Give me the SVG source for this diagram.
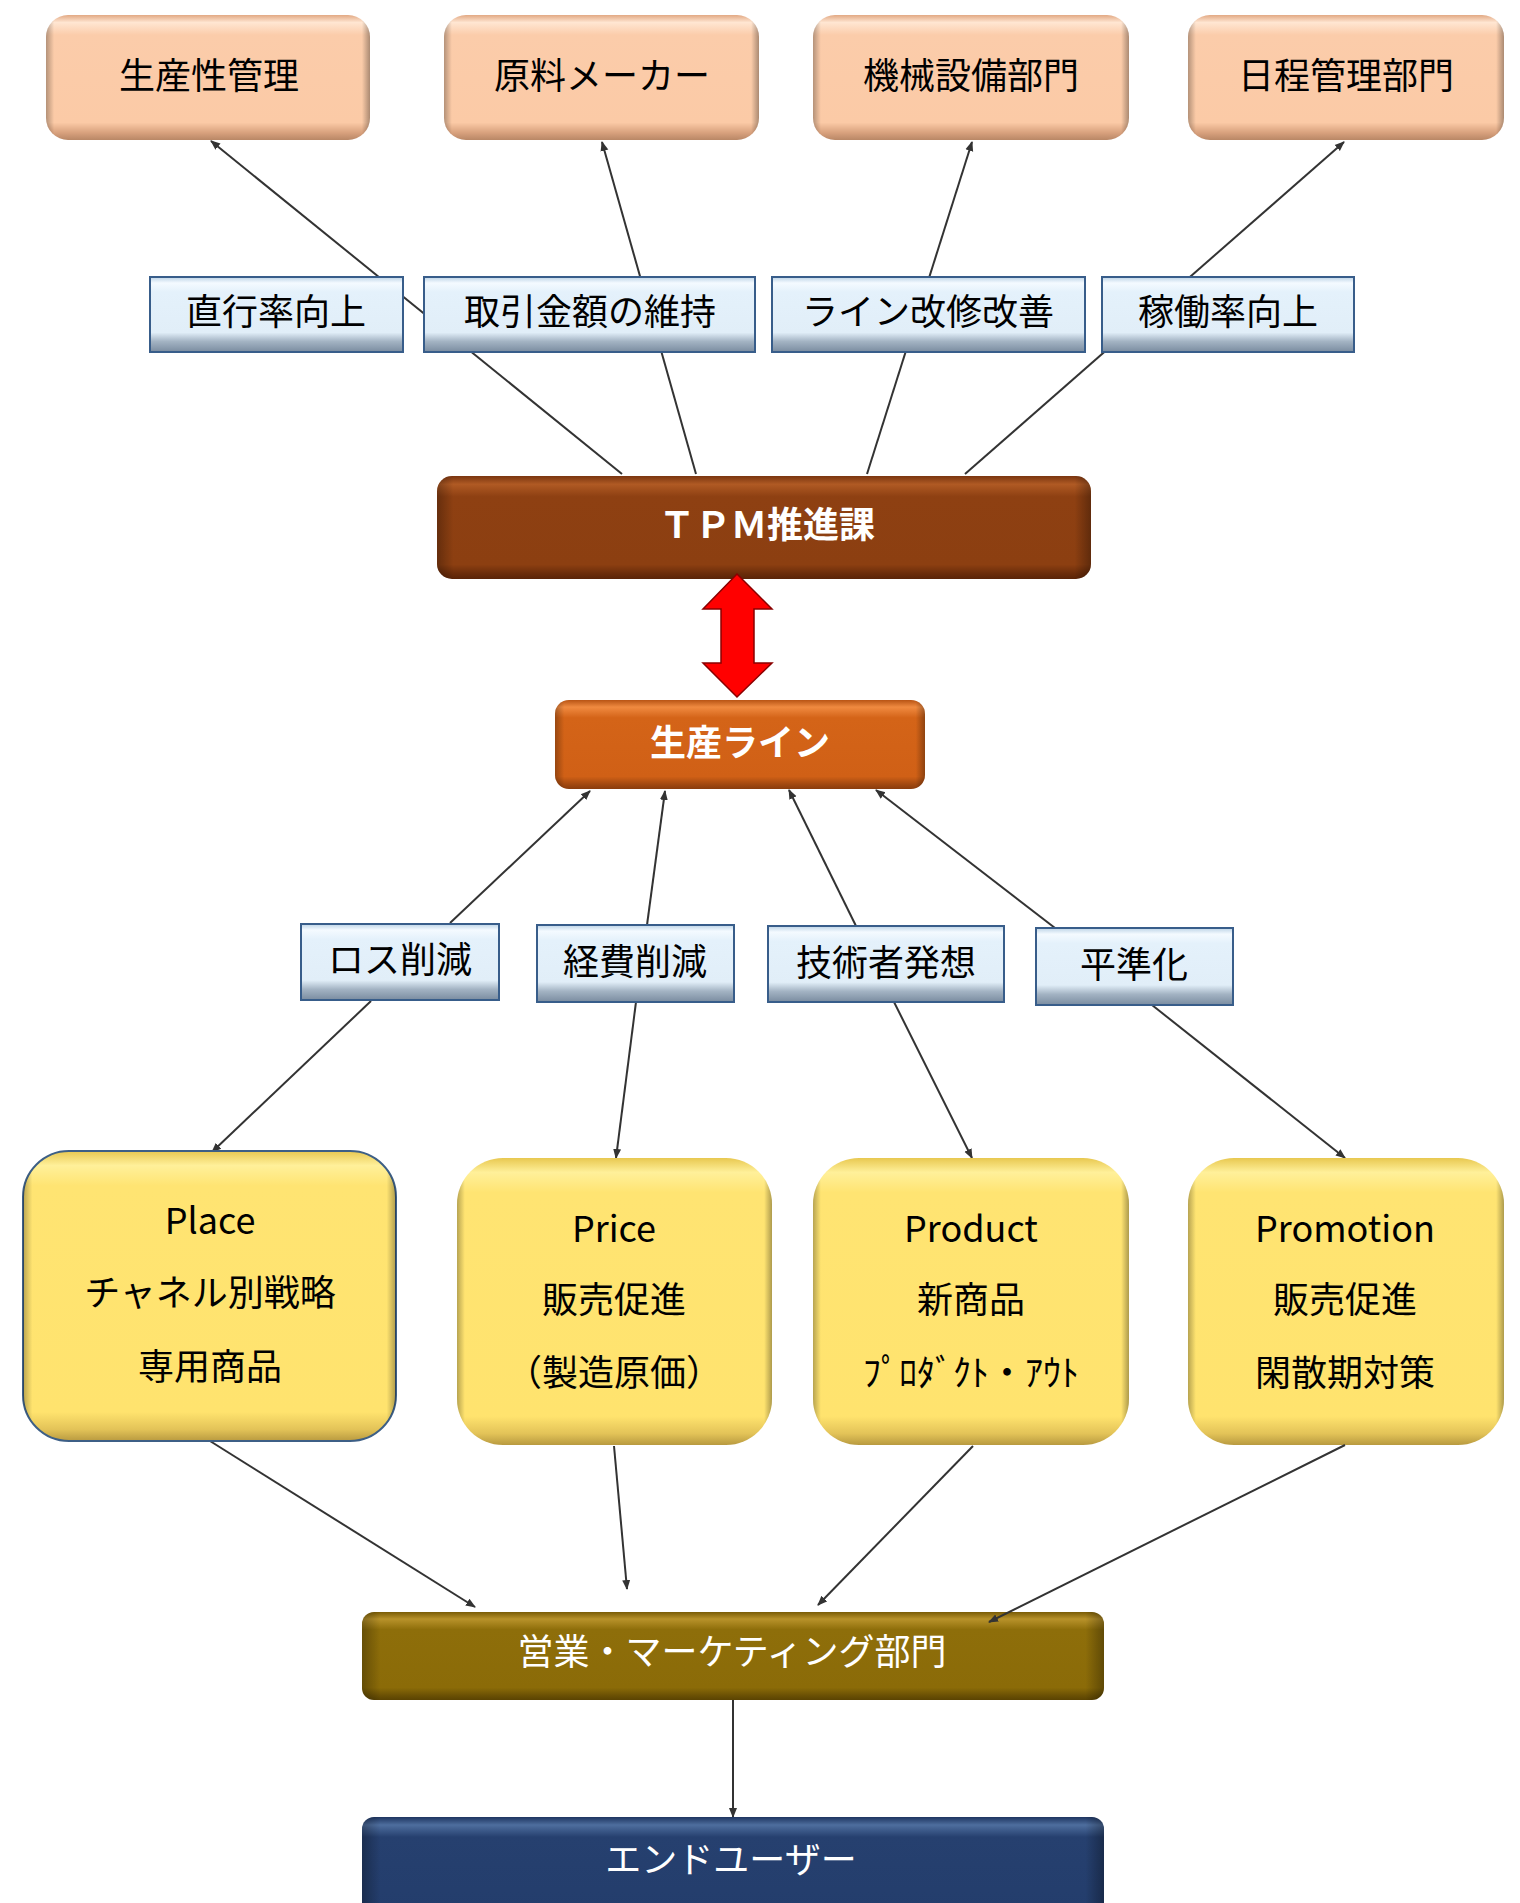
<svg xmlns="http://www.w3.org/2000/svg" width="1520" height="1903" viewBox="0 0 1520 1903">
<style>
text{font-family:"Noto Sans CJK JP","Noto Sans",sans-serif;font-size:36px;text-anchor:middle}
.dk{fill:#000}
.wh{fill:#fff}
.b{font-weight:bold}
.con line{stroke:#333;stroke-width:2;marker-end:url(#ah)}
.side{fill:url(#side)}
</style>
<defs>
<marker id="ah" viewBox="0 0 10 10" refX="9" refY="5" markerWidth="10" markerHeight="10" markerUnits="userSpaceOnUse" orient="auto">
<path d="M0,1 L10,5 L0,9 z" fill="#333"/>
</marker>
<linearGradient id="side" x1="0" y1="0" x2="1" y2="0">
<stop offset="0" stop-color="#000" stop-opacity="0.28"/>
<stop offset="0.025" stop-color="#000" stop-opacity="0"/>
<stop offset="0.975" stop-color="#000" stop-opacity="0"/>
<stop offset="1" stop-color="#000" stop-opacity="0.32"/>
</linearGradient>
<linearGradient id="peach" x1="0" y1="0" x2="0" y2="1">
<stop offset="0" stop-color="#E2A984"/>
<stop offset="0.06" stop-color="#FFE6D2"/>
<stop offset="0.16" stop-color="#FBCCAA"/>
<stop offset="0.86" stop-color="#FBCAA6"/>
<stop offset="0.94" stop-color="#D9A27E"/>
<stop offset="1" stop-color="#B98766"/>
</linearGradient>
<linearGradient id="blue" x1="0" y1="0" x2="0" y2="1">
<stop offset="0" stop-color="#BCD3E6"/>
<stop offset="0.08" stop-color="#F4FAFF"/>
<stop offset="0.2" stop-color="#E4F1FB"/>
<stop offset="0.74" stop-color="#E1EEF8"/>
<stop offset="0.86" stop-color="#A3B3C3"/>
<stop offset="1" stop-color="#7A8CA0"/>
</linearGradient>
<linearGradient id="brown" x1="0" y1="0" x2="0" y2="1">
<stop offset="0" stop-color="#7A3510"/>
<stop offset="0.08" stop-color="#B05A24"/>
<stop offset="0.2" stop-color="#8E4012"/>
<stop offset="0.86" stop-color="#8C3F11"/>
<stop offset="0.95" stop-color="#6A2C0A"/>
<stop offset="1" stop-color="#5A2407"/>
</linearGradient>
<linearGradient id="orange" x1="0" y1="0" x2="0" y2="1">
<stop offset="0" stop-color="#B85414"/>
<stop offset="0.08" stop-color="#F08A40"/>
<stop offset="0.2" stop-color="#D46418"/>
<stop offset="0.86" stop-color="#D06016"/>
<stop offset="0.95" stop-color="#A04810"/>
<stop offset="1" stop-color="#8A3C0C"/>
</linearGradient>
<linearGradient id="yellow" x1="0" y1="0" x2="0" y2="1">
<stop offset="0" stop-color="#E8C850"/>
<stop offset="0.05" stop-color="#FFF09A"/>
<stop offset="0.12" stop-color="#FFE472"/>
<stop offset="0.9" stop-color="#FFE36E"/>
<stop offset="0.96" stop-color="#E3C358"/>
<stop offset="1" stop-color="#B89A40"/>
</linearGradient>
<linearGradient id="olive" x1="0" y1="0" x2="0" y2="1">
<stop offset="0" stop-color="#7A5C06"/>
<stop offset="0.08" stop-color="#B8922A"/>
<stop offset="0.2" stop-color="#8E6E0A"/>
<stop offset="0.86" stop-color="#8B6B08"/>
<stop offset="0.95" stop-color="#6A5004"/>
<stop offset="1" stop-color="#5A4302"/>
</linearGradient>
<linearGradient id="navy" x1="0" y1="0" x2="0" y2="1">
<stop offset="0" stop-color="#1E3560"/>
<stop offset="0.08" stop-color="#4E6E9E"/>
<stop offset="0.2" stop-color="#26406F"/>
<stop offset="1" stop-color="#233D6C"/>
</linearGradient>
</defs>
<rect width="1520" height="1903" fill="#fff"/>

<g id="connectors" class="con">
<line x1="622" y1="474" x2="211" y2="141"/>
<line x1="696" y1="474" x2="602" y2="142"/>
<line x1="867" y1="474" x2="972" y2="142"/>
<line x1="965" y1="474" x2="1344" y2="142"/>
<line x1="450" y1="923" x2="590" y2="791"/>
<line x1="647" y1="925" x2="665" y2="791"/>
<line x1="856" y1="926" x2="789" y2="790"/>
<line x1="1055" y1="928" x2="876" y2="790"/>
<line x1="371" y1="1001" x2="212" y2="1152"/>
<line x1="636" y1="1002" x2="616" y2="1158"/>
<line x1="894" y1="1002" x2="972" y2="1158"/>
<line x1="1152" y1="1005" x2="1345" y2="1158"/>
<line x1="210" y1="1441" x2="475" y2="1607"/>
<line x1="614" y1="1446" x2="627" y2="1589"/>
<line x1="973" y1="1446" x2="818" y2="1605"/>
<line x1="733" y1="1700" x2="733" y2="1817"/>
</g>

<g id="n-seisansei">
<rect x="46" y="15" width="324" height="125" rx="22" fill="url(#peach)"/>
<rect x="46" y="15" width="324" height="125" rx="22" class="side"/>
<text x="209" y="89" class="dk">生産性管理</text>
</g>
<g id="n-genryo">
<rect x="444" y="15" width="315" height="125" rx="22" fill="url(#peach)"/>
<rect x="444" y="15" width="315" height="125" rx="22" class="side"/>
<text x="602" y="89" class="dk">原料メーカー</text>
</g>
<g id="n-kikai">
<rect x="813" y="15" width="316" height="125" rx="22" fill="url(#peach)"/>
<rect x="813" y="15" width="316" height="125" rx="22" class="side"/>
<text x="971" y="89" class="dk">機械設備部門</text>
</g>
<g id="n-nittei">
<rect x="1188" y="15" width="316" height="125" rx="22" fill="url(#peach)"/>
<rect x="1188" y="15" width="316" height="125" rx="22" class="side"/>
<text x="1346" y="89" class="dk">日程管理部門</text>
</g>

<g id="l-chokko">
<rect x="150" y="277" width="253" height="75" fill="url(#blue)" stroke="#385D8A" stroke-width="2"/>
<text x="276" y="325" class="dk">直行率向上</text>
</g>
<g id="l-torihiki">
<rect x="424" y="277" width="331" height="75" fill="url(#blue)" stroke="#385D8A" stroke-width="2"/>
<text x="590" y="325" class="dk">取引金額の維持</text>
</g>
<g id="l-line">
<rect x="772" y="277" width="313" height="75" fill="url(#blue)" stroke="#385D8A" stroke-width="2"/>
<text x="928" y="325" class="dk">ライン改修改善</text>
</g>
<g id="l-kado">
<rect x="1102" y="277" width="252" height="75" fill="url(#blue)" stroke="#385D8A" stroke-width="2"/>
<text x="1228" y="325" class="dk">稼働率向上</text>
</g>

<g id="n-tpm">
<rect x="437" y="476" width="654" height="103" rx="15" fill="url(#brown)"/>
<rect x="437" y="476" width="654" height="103" rx="15" class="side"/>
<text x="767" y="538" class="wh b">ＴＰＭ推進課</text>
</g>

<g id="arrow-red">
<polygon points="737,574 772,609 754,609 754,663 772,663 737,697 703,663 721,663 721,609 703,609" fill="#FF0000" stroke="#8A0000" stroke-width="1.5"/>
</g>

<g id="n-line">
<rect x="555" y="700" width="370" height="89" rx="14" fill="url(#orange)"/>
<rect x="555" y="700" width="370" height="89" rx="14" class="side"/>
<text x="740" y="756" class="wh b">生産ライン</text>
</g>

<g id="l-loss">
<rect x="301" y="924" width="198" height="76" fill="url(#blue)" stroke="#385D8A" stroke-width="2"/>
<text x="400" y="973" class="dk">ロス削減</text>
</g>
<g id="l-keihi">
<rect x="537" y="925" width="197" height="77" fill="url(#blue)" stroke="#385D8A" stroke-width="2"/>
<text x="635" y="975" class="dk">経費削減</text>
</g>
<g id="l-gijutsu">
<rect x="768" y="926" width="236" height="76" fill="url(#blue)" stroke="#385D8A" stroke-width="2"/>
<text x="886" y="976" class="dk">技術者発想</text>
</g>
<g id="l-heijun">
<rect x="1036" y="928" width="197" height="77" fill="url(#blue)" stroke="#385D8A" stroke-width="2"/>
<text x="1134" y="978" class="dk">平準化</text>
</g>

<g id="n-place">
<rect x="23" y="1151" width="373" height="290" rx="46" fill="url(#yellow)" stroke="#3D5F86" stroke-width="2"/>
<rect x="23" y="1151" width="373" height="290" rx="46" class="side"/>
<text x="210" y="1234" class="dk">Place</text>
<text x="210" y="1306" class="dk">チャネル別戦略</text>
<text x="210" y="1380" class="dk">専用商品</text>
</g>
<g id="n-price">
<rect x="457" y="1158" width="315" height="287" rx="46" fill="url(#yellow)"/>
<rect x="457" y="1158" width="315" height="287" rx="46" class="side"/>
<text x="614" y="1242" class="dk">Price</text>
<text x="614" y="1313" class="dk">販売促進</text>
<text x="614" y="1386" class="dk">（製造原価）</text>
</g>
<g id="n-product">
<rect x="813" y="1158" width="316" height="287" rx="46" fill="url(#yellow)"/>
<rect x="813" y="1158" width="316" height="287" rx="46" class="side"/>
<text x="971" y="1242" class="dk">Product</text>
<text x="971" y="1313" class="dk">新商品</text>
<text x="971" y="1386" class="dk">ﾌﾟﾛﾀﾞｸﾄ・ｱｳﾄ</text>
</g>
<g id="n-promotion">
<rect x="1188" y="1158" width="316" height="287" rx="46" fill="url(#yellow)"/>
<rect x="1188" y="1158" width="316" height="287" rx="46" class="side"/>
<text x="1345" y="1242" class="dk">Promotion</text>
<text x="1345" y="1313" class="dk">販売促進</text>
<text x="1345" y="1386" class="dk">閑散期対策</text>
</g>

<g id="n-eigyo">
<rect x="362" y="1612" width="742" height="88" rx="12" fill="url(#olive)"/>
<rect x="362" y="1612" width="742" height="88" rx="12" class="side"/>
<text x="732" y="1665" class="wh">営業・マーケティング部門</text>
</g>

<g id="connectors-over" class="con">
<line x1="1345" y1="1445" x2="989" y2="1622"/>
</g>

<g id="n-enduser">
<rect x="362" y="1817" width="742" height="100" rx="12" fill="url(#navy)"/>
<rect x="362" y="1817" width="742" height="100" rx="12" class="side"/>
<text x="731" y="1873" class="wh">エンドユーザー</text>
</g>
</svg>
